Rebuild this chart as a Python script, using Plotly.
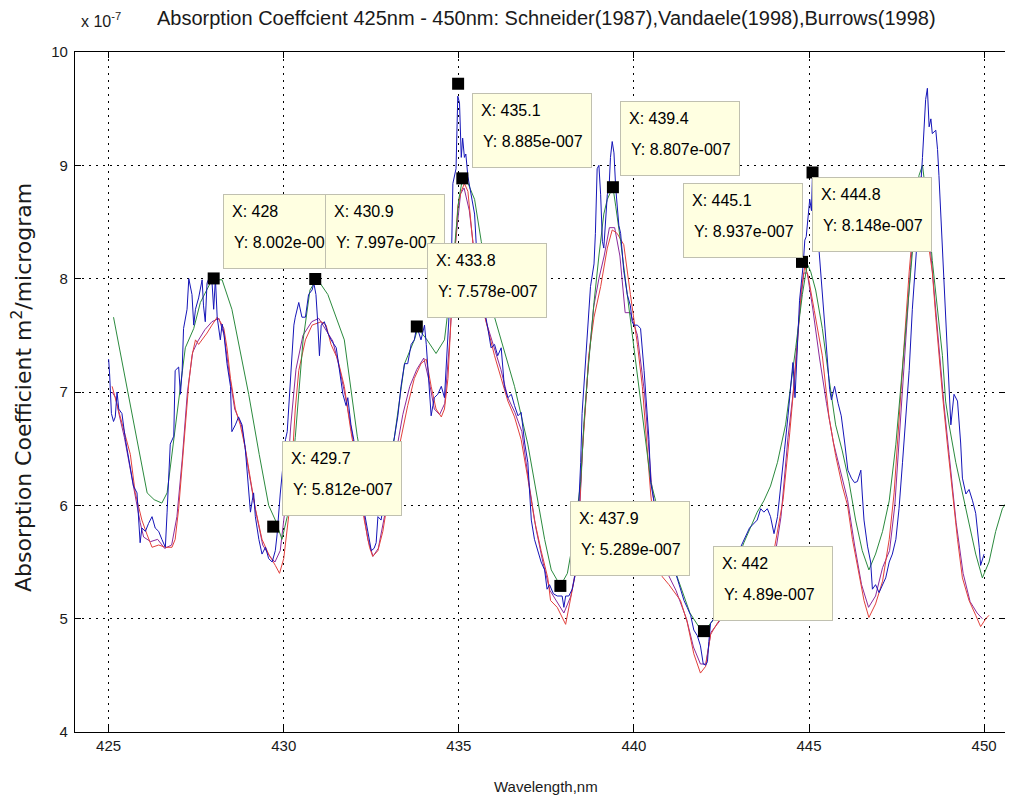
import plotly.graph_objects as go

# ---------------- data (absorption coefficient in units of 1e-7 m^2/microgram) -------------
blue_x = [425.0, 425.03, 425.08, 425.14, 425.19, 425.24, 425.29, 425.38, 425.48, 425.57, 425.71, 425.81,
          425.86, 425.9, 425.95, 426.05, 426.14, 426.24, 426.33, 426.43, 426.52, 426.62, 426.67, 426.76,
          426.86, 426.9, 427.0, 427.05, 427.1, 427.14, 427.24, 427.29, 427.38, 427.43, 427.48, 427.57,
          427.67, 427.71, 427.76, 427.81, 427.86, 427.95, 428.0, 428.05, 428.1, 428.19, 428.24, 428.29,
          428.38, 428.48, 428.52, 428.62, 428.71, 428.81, 428.9, 429.0, 429.05, 429.1, 429.14, 429.19,
          429.29, 429.38, 429.48, 429.57, 429.67, 429.76, 429.81, 429.9, 430.0, 430.05, 430.1, 430.2,
          430.29, 430.33, 430.43, 430.52, 430.62, 430.71, 430.81, 430.86, 430.92, 430.97, 431.02, 431.07,
          431.16, 431.26, 431.35, 431.5, 431.59, 431.69, 431.78, 431.83, 431.92, 432.0, 432.15, 432.35,
          432.5, 432.58, 432.64, 432.69, 432.78, 432.9, 433.05, 433.16, 433.26, 433.35, 433.45, 433.54,
          433.64, 433.73, 433.8, 433.92, 434.02, 434.07, 434.11, 434.16, 434.21, 434.26, 434.3, 434.4,
          434.5, 434.59, 434.69, 434.78, 434.83, 434.92, 434.97, 435.02, 435.07, 435.11, 435.16, 435.2,
          435.26, 435.35, 435.45, 435.54, 435.64, 435.73, 435.83, 435.92, 436.02, 436.11, 436.21, 436.3,
          436.4, 436.5, 436.59, 436.69, 436.78, 436.88, 436.97, 437.07, 437.16, 437.26, 437.35, 437.45,
          437.52, 437.59, 437.7, 437.81, 437.95, 438.0, 438.05, 438.14, 438.24, 438.33, 438.38, 438.43,
          438.48, 438.52, 438.57, 438.62, 438.67, 438.76, 438.86, 438.9, 438.95, 439.0, 439.05, 439.1,
          439.14, 439.19, 439.24, 439.29, 439.33, 439.38, 439.43, 439.48, 439.52, 439.57, 439.62, 439.71,
          439.81, 439.9, 439.95, 440.0, 440.1, 440.19, 440.29, 440.38, 440.43, 440.48, 440.57, 440.7,
          440.9, 441.1, 441.33, 441.43, 441.52, 441.62, 441.71, 441.81, 441.9, 441.98, 442.05, 442.1,
          442.14, 442.19, 442.4, 442.7, 443.0, 443.3, 443.52, 443.62, 443.71, 443.81, 443.9, 444.0,
          444.1, 444.21, 444.3, 444.4, 444.5, 444.54, 444.6, 444.64, 444.73, 444.83, 444.88, 444.92,
          444.97, 445.02, 445.07, 445.1, 445.15, 445.2, 445.3, 445.4, 445.5, 445.59, 445.64, 445.73,
          445.83, 445.92, 446.02, 446.11, 446.21, 446.3, 446.38, 446.48, 446.52, 446.57, 446.67, 446.76,
          446.81, 446.9, 447.0, 447.1, 447.19, 447.29, 447.38, 447.48, 447.57, 447.67, 447.76, 447.86,
          447.95, 448.05, 448.14, 448.24, 448.33, 448.38, 448.43, 448.48, 448.52, 448.62, 448.67, 448.71,
          448.81, 448.9, 449.0, 449.05, 449.14, 449.24, 449.33, 449.38, 449.48, 449.57, 449.67, 449.76,
          449.86, 449.9, 450.0]
blue_y = [7.29, 7.15, 6.81, 6.74, 6.78, 7.0, 6.85, 6.81, 6.58, 6.41, 6.17, 6.11,
          5.87, 5.67, 5.8, 5.77, 5.84, 5.9, 5.8, 5.77, 5.7, 5.63, 5.94, 6.54,
          6.61, 7.19, 7.22, 6.98, 7.19, 7.56, 7.73, 8.0, 7.86, 7.59, 7.73, 7.83,
          7.99, 7.76, 7.62, 7.96, 8.0, 7.98, 7.73, 8.0, 7.66, 7.46, 7.6, 7.52,
          7.25, 7.05, 6.65, 6.71, 6.78, 6.71, 6.51, 6.17, 5.94, 6.04, 6.11, 5.9,
          5.7, 5.57, 5.63, 5.53, 5.5, 5.6, 5.74, 6.1, 6.45, 6.58, 6.65, 7.1,
          7.59, 7.66, 7.79, 7.66, 7.66, 7.86, 7.9, 7.96, 7.86, 7.62, 7.32, 7.59,
          7.62, 7.52, 7.46, 7.39, 7.19, 6.98, 6.88, 6.95, 6.71, 6.58, 6.2, 5.87,
          5.6, 5.62, 5.67, 5.9, 5.87, 6.1, 6.4, 6.6, 6.79, 7.05, 7.25, 7.25,
          7.42, 7.46, 7.58, 7.46, 7.59, 7.42, 7.25, 7.02, 6.79, 6.88, 6.95, 6.98,
          7.05, 6.95, 7.52, 8.0, 8.84, 8.97, 9.61, 9.55, 9.07, 9.24, 9.07, 9.1,
          8.9, 8.74, 8.57, 8.06, 7.9, 7.73, 7.56, 7.39, 7.42, 7.32, 7.39, 7.05,
          6.95, 6.98, 6.88, 6.79, 6.82, 6.55, 6.38, 5.87, 5.7, 5.6, 5.5, 5.43,
          5.26, 5.3, 5.22, 5.2, 5.2, 5.1, 5.2, 5.2, 5.26, 5.4, 5.6, 6.04,
          6.38, 6.81, 7.05, 7.32, 7.59, 7.93, 8.13, 8.4, 8.97, 9.0, 8.74, 8.33,
          8.27, 8.53, 8.74, 8.8, 9.07, 9.21, 9.11, 8.8, 8.64, 8.47, 8.4, 8.07,
          7.86, 7.76, 7.62, 7.59, 7.59, 7.56, 7.19, 6.78, 6.58, 6.2, 6.04, 5.9,
          5.7, 5.5, 5.26, 5.16, 5.1, 5.03, 4.9, 4.85, 4.76, 4.6, 4.59, 4.62,
          4.8, 4.96, 5.05, 5.3, 5.6, 5.8, 5.87, 5.97, 5.94, 5.97, 5.9, 5.75,
          5.9, 6.2, 6.49, 6.79, 7.14, 7.26, 6.95, 7.2, 7.81, 8.11, 8.34, 8.37,
          8.55, 8.7, 8.6, 8.94, 8.8, 8.6, 8.26, 7.81, 7.43, 7.02, 6.93, 7.05,
          6.9, 6.79, 6.55, 6.31, 6.24, 6.2, 6.21, 6.31, 6.1, 5.87, 5.64, 5.5,
          5.26, 5.3, 5.23, 5.3, 5.36, 5.5, 5.57, 5.7, 5.97, 6.38, 6.78, 7.19,
          7.73, 8.13, 8.57, 9.07, 9.58, 9.68, 9.34, 9.41, 9.28, 9.31, 9.14, 8.91,
          8.23, 7.73, 7.05, 6.71, 6.98, 6.92, 6.55, 6.24, 6.1, 6.14, 6.04, 5.93,
          5.63, 5.47, 5.57]

red_x = [425.1, 425.19, 425.33, 425.48, 425.62, 425.76, 425.95, 426.1, 426.24, 426.43, 426.62, 426.81,
         426.9, 427.0, 427.1, 427.19, 427.29, 427.38, 427.48, 427.57, 427.67, 427.81, 427.95, 428.1,
         428.19, 428.29, 428.38, 428.48, 428.62, 428.76, 428.9, 429.05, 429.19, 429.38, 429.57, 429.76,
         429.88, 430.0, 430.14, 430.24, 430.33, 430.43, 430.62, 430.81, 431.07, 431.21, 431.35, 431.54,
         431.73, 431.92, 432.11, 432.3, 432.45, 432.54, 432.69, 432.83, 432.97, 433.16, 433.35, 433.54,
         433.73, 433.92, 434.07, 434.21, 434.35, 434.5, 434.59, 434.69, 434.78, 434.88, 434.97, 435.07,
         435.16, 435.26, 435.35, 435.45, 435.64, 435.83, 436.02, 436.21, 436.4, 436.59, 436.78, 436.97,
         437.16, 437.35, 437.54, 437.62, 437.81, 438.05, 438.19, 438.33, 438.43, 438.52, 438.62, 438.71,
         438.86, 439.05, 439.24, 439.38, 439.52, 439.71, 439.9, 440.1, 440.24, 440.38, 440.48, 440.65,
         440.81, 441.0, 441.33, 441.52, 441.71, 441.9, 442.05, 442.19, 442.38, 442.62, 443.0, 443.5,
         443.8, 444.0, 444.26, 444.45, 444.64, 444.78, 444.88, 444.97, 445.15, 445.38, 445.57, 445.76,
         445.95, 446.1, 446.24, 446.43, 446.57, 446.71, 446.9, 447.1, 447.29, 447.43, 447.57, 447.71,
         447.86, 447.95, 448.05, 448.2, 448.35, 448.43, 448.52, 448.62, 448.71, 448.81, 448.95, 449.1,
         449.24, 449.38, 449.57, 449.76, 449.9, 450.05, 450.14]
red_y = [7.05, 6.95, 6.78, 6.61, 6.45, 6.11, 5.87, 5.74, 5.63, 5.65, 5.63, 5.63,
         5.7, 5.97, 6.38, 6.71, 7.08, 7.32, 7.46, 7.42, 7.46, 7.52, 7.59, 7.66,
         7.62, 7.56, 7.39, 7.12, 6.85, 6.71, 6.51, 6.24, 5.97, 5.7, 5.57, 5.47,
         5.4, 5.53, 5.9, 6.38, 6.85, 7.19, 7.46, 7.59, 7.62, 7.59, 7.42, 7.29,
         7.05, 6.65, 6.31, 5.87, 5.63, 5.55, 5.6, 5.77, 6.04, 6.31, 6.61, 6.88,
         7.12, 7.25, 7.29, 7.05, 6.85, 6.78, 6.85, 7.12, 7.66, 8.23, 8.64, 8.77,
         8.84, 8.77, 8.47, 8.16, 7.79, 7.56, 7.32, 7.12, 6.92, 6.78, 6.58, 6.24,
         5.87, 5.6, 5.36, 5.16, 5.1, 4.95, 5.16, 5.4, 5.87, 6.44, 6.88, 7.32,
         7.66, 7.93, 8.27, 8.43, 8.4, 8.3, 7.86, 7.42, 7.05, 6.54, 6.1, 5.6,
         5.37, 5.3, 5.16, 4.97, 4.69, 4.52, 4.58, 4.86, 4.96, 5.06, 5.15, 5.35,
         5.5, 5.6, 6.05, 6.64, 7.31, 7.9, 8.11, 8.03, 7.72, 7.32, 6.78, 6.44,
         6.17, 6.0, 5.7, 5.4, 5.16, 5.01, 5.13, 5.33, 5.7, 6.11, 6.71, 7.39,
         8.06, 8.4, 8.74, 8.88, 8.6, 8.26, 8.06, 7.66, 7.32, 6.98, 6.54, 6.1,
         5.7, 5.36, 5.16, 5.03, 4.93, 5.0, 5.03]

green_x = [425.14, 425.62, 426.1, 426.3, 426.52, 426.67, 426.9, 427.19, 427.43, 427.62, 427.95, 428.24,
           428.52, 429.0, 429.3, 429.57, 429.76, 429.95, 430.1, 430.33, 430.55, 430.75, 430.95, 431.26,
           431.73, 432.1, 432.4, 432.65, 432.9, 433.16, 433.45, 433.73, 433.83, 434.07, 434.35, 434.59,
           434.8, 435.0, 435.11, 435.25, 435.45, 435.64, 436.02, 436.59, 436.97, 437.45, 437.64, 437.9,
           438.1, 438.3, 438.48, 438.57, 438.67, 438.76, 438.86, 439.0, 439.14, 439.24, 439.4, 439.48,
           439.62, 439.81, 440.0, 440.14, 440.29, 440.48, 440.62, 440.8, 441.2, 441.6, 441.85, 442.0,
           442.3, 442.7, 443.14, 443.33, 443.52, 443.71, 443.9, 444.1, 444.33, 444.62, 444.81, 444.95,
           445.05, 445.19, 445.38, 445.57, 445.76, 445.95, 446.14, 446.33, 446.52, 446.71, 446.9, 447.1,
           447.29, 447.48, 447.67, 447.86, 448.0, 448.14, 448.24, 448.4, 448.52, 448.62, 448.71, 448.81,
           448.9, 449.0, 449.19, 449.38, 449.57, 449.76, 449.95, 450.14, 450.33, 450.52, 450.71, 450.85]
green_y = [7.66, 6.89, 6.11, 6.05, 6.02, 6.11, 6.7, 7.39, 7.56, 7.79, 7.99, 7.99,
           7.73, 6.98, 6.45, 6.0, 5.87, 5.7, 5.9, 6.6, 7.45, 7.9, 8.0, 7.86,
           7.46, 6.61, 6.1, 5.95, 6.2, 6.6, 7.25, 7.46, 7.56, 7.47, 7.34, 7.46,
           8.0, 8.7, 8.89, 8.85, 8.7, 8.33, 7.66, 7.05, 6.54, 5.7, 5.43, 5.29,
           5.4, 5.75, 6.21, 6.71, 7.12, 7.46, 7.79, 8.2, 8.57, 8.7, 8.81, 8.64,
           8.33, 7.86, 7.39, 7.05, 6.71, 6.21, 6.04, 5.8, 5.4, 5.05, 4.93, 4.89,
           5.0, 5.3, 5.67, 5.8, 5.94, 6.04, 6.17, 6.38, 6.71, 7.39, 7.86, 8.13,
           8.06, 7.9, 7.56, 7.12, 6.71, 6.48, 6.21, 5.87, 5.6, 5.43, 5.57, 5.77,
           6.04, 6.54, 7.22, 7.93, 8.4, 8.91, 9.0, 8.6, 8.16, 7.86, 7.59, 7.32,
           6.92, 6.71, 6.38, 6.1, 5.83, 5.57, 5.36, 5.5, 5.77, 5.97, 6.06, 6.0]

purple_x = [425.1, 425.2, 425.3, 425.45, 425.6, 425.75, 425.9, 426.0, 426.2, 426.4, 426.6, 426.8,
            426.95, 427.1, 427.25, 427.4, 427.55, 427.75, 427.95, 428.15, 428.3, 428.45, 428.6, 428.8,
            429.0, 429.2, 429.4, 429.6, 429.75, 429.9, 430.05, 430.2, 430.35, 430.55, 430.8, 431.0,
            431.2, 431.4, 431.6, 431.8, 432.0, 432.2, 432.4, 432.55, 432.7, 432.85, 433.0, 433.2,
            433.4, 433.6, 433.8, 434.0, 434.15, 434.3, 434.45, 434.6, 434.75, 434.9, 435.05, 435.15,
            435.3, 435.45, 435.6, 435.8, 436.0, 436.2, 436.4, 436.6, 436.8, 437.0, 437.2, 437.4,
            437.6, 437.8, 438.0, 438.2, 438.35, 438.45, 438.55, 438.7, 438.85, 439.0, 439.15, 439.3,
            439.45, 439.6, 439.75, 439.9, 440.1, 440.3, 440.5, 440.8, 441.2, 441.5, 441.7, 441.9,
            442.05, 442.2, 442.5, 443.0, 443.4, 443.7, 444.0, 444.07, 444.2, 444.4, 444.55, 444.7,
            444.85, 444.95, 445.1, 445.3, 445.5, 445.7, 445.9, 446.1, 446.3, 446.5, 446.7, 446.9,
            447.1, 447.3, 447.45, 447.6, 447.75, 447.9, 448.05, 448.2, 448.4, 448.55, 448.7, 448.85,
            449.0, 449.2, 449.4, 449.6, 449.8, 449.95]
purple_y = [7.0, 6.95, 6.8, 6.6, 6.35, 6.1, 5.85, 5.72, 5.68, 5.7, 5.62, 5.65,
            5.9, 6.4, 7.0, 7.35, 7.45, 7.55, 7.62, 7.65, 7.5, 7.15, 6.85, 6.7,
            6.3, 5.95, 5.65, 5.55, 5.5, 5.6, 6.0, 6.7, 7.2, 7.5, 7.62, 7.65,
            7.55, 7.45, 7.2, 6.9, 6.55, 6.1, 5.7, 5.55, 5.62, 5.85, 6.1, 6.45,
            6.8, 7.05, 7.2, 7.3, 7.1, 6.85, 6.8, 6.9, 7.5, 8.3, 8.75, 8.8,
            8.6, 8.2, 7.85, 7.6, 7.4, 7.2, 6.95, 6.82, 6.65, 6.2, 5.8, 5.5,
            5.25, 5.15, 5.05, 5.2, 5.45, 5.95, 6.6, 7.25, 7.75, 8.0, 8.2, 8.45,
            8.45, 8.2, 7.7, 7.7, 7.5, 7.0, 6.2, 5.5, 5.25, 5.0, 4.75, 4.6,
            4.6, 4.88, 5.0, 5.3, 5.5, 5.6, 5.6, 5.64, 5.9, 6.6, 7.0, 7.6,
            8.05, 8.05, 7.75, 7.3, 6.9, 6.55, 6.3, 6.05, 5.65, 5.3, 5.1, 5.2,
            5.45, 5.6, 6.0, 6.7, 7.4, 8.1, 8.7, 8.9, 8.5, 7.95, 7.4, 6.9,
            6.45, 5.85, 5.4, 5.15, 5.05, 5.0]

# data tips (MATLAB data cursors)
tip_x = [428.0, 430.9, 429.7, 433.8, 435.1, 439.4, 437.9, 442.0, 445.1, 444.8]
tip_y = [8.002, 7.997, 5.812, 7.578, 8.885, 8.807, 5.289, 4.89, 8.937, 8.148]
extra_marker_x = [434.98]
extra_marker_y = [9.72]

x_ticks = [425, 430, 435, 440, 445, 450]
y_ticks = [4, 5, 6, 7, 8, 9, 10]

# --------------------------- layout constants ---------------------------
OFF = 8                      # default page margin of the HTML body
W, H = 1013 - 2 * OFF, 803 - 2 * OFF
ML, MR, MT, MB = 75 - OFF, 0, 52 - OFF, 63
PX_PER_NM = 35.02
X0 = 424.04
X_RANGE = [X0, X0 + (W - ML - MR) / PX_PER_NM]
Y_RANGE = [4, 10]
FONT = "Liberation Sans, Arial, sans-serif"

# box top-left corners for data tips (in data coordinates)
box_x = [428.27, 431.18, 429.95, 434.09, 435.38, 439.60, 438.17, 442.26, 441.40, 445.09]
box_y = [8.76, 8.76, 6.58, 8.32, 9.65, 9.58, 6.05, 5.65, 8.85, 8.91]


def matlab_fmt(v):
    s = f"{v:.4g}"
    if "e" in s:
        mant, exp = s.split("e")
        sign = exp[0]
        digits = exp[1:].lstrip("0")
        s = f"{mant}e{sign}{digits.zfill(3)}"
    return s


fig = go.Figure()
line_w = 1.0
fig.add_trace(go.Scatter(x=purple_x, y=purple_y, mode="lines",
                         line=dict(color="#8b2a9c", width=line_w), showlegend=False))
fig.add_trace(go.Scatter(x=red_x, y=red_y, mode="lines",
                         line=dict(color="#e2403c", width=line_w), showlegend=False))
fig.add_trace(go.Scatter(x=green_x, y=green_y, mode="lines",
                         line=dict(color="#2b8a3e", width=line_w), showlegend=False))
fig.add_trace(go.Scatter(x=blue_x, y=blue_y, mode="lines",
                         line=dict(color="#1515b8", width=line_w), showlegend=False))
fig.add_trace(go.Scatter(x=tip_x + extra_marker_x, y=tip_y + extra_marker_y, mode="markers",
                         marker=dict(symbol="square", size=12, color="black",
                                     line=dict(width=0)), showlegend=False))

annotations = []
for bx, by, tx, ty in zip(box_x, box_y, tip_x, tip_y):
    annotations.append(dict(
        x=bx, y=by, xref="x", yref="y", xanchor="left", yanchor="top",
        yshift=-1, text=f"X: {tx:g}", showarrow=False, align="left", valign="top",
        width=102, height=57, borderpad=8, borderwidth=1,
        bgcolor="#ffffe1", bordercolor="#c0c0b0",
        font=dict(family=FONT, size=16, color="black")))
    annotations.append(dict(
        x=bx, y=by, xref="x", yref="y", xanchor="left", yanchor="top",
        xshift=9, yshift=-39, text=f"Y: {matlab_fmt(ty * 1e-7)}", showarrow=False,
        align="left", font=dict(family=FONT, size=16, color="black")))

pw = W - ML - MR
ph = H - MT - MB


def px(xpix):
    return (xpix - OFF - ML) / pw


def py(ypix):
    return (H + OFF - MB - ypix) / ph


annotations += [
    dict(x=px(546), y=py(18), xref="paper", yref="paper", xanchor="center", yanchor="middle",
         text="Absorption Coeffcient 425nm - 450nm: Schneider(1987),Vandaele(1998),Burrows(1998)",
         showarrow=False, font=dict(family=FONT, size=20, color="#1a1a1a")),
    dict(x=px(79), y=py(20), xref="paper", yref="paper", xanchor="left", yanchor="middle",
         text="x 10<sup>-7</sup>", showarrow=False, font=dict(family=FONT, size=16, color="#1a1a1a")),
    dict(x=px(546), y=py(786), xref="paper", yref="paper", xanchor="center", yanchor="middle",
         text="Wavelength,nm", showarrow=False, font=dict(family=FONT, size=15, color="#1a1a1a")),
    dict(x=px(22), y=py(388), xref="paper", yref="paper", xanchor="center", yanchor="middle",
         text="Absorption Coefficient m<sup>2</sup>/microgram", textangle=-90,
         showarrow=False, font=dict(family="DejaVu Sans, sans-serif", size=22, color="#1a1a1a")),
]

axis_common = dict(showline=True, linecolor="black", linewidth=1.2, mirror="ticks",
                   ticks="inside", ticklen=6, tickcolor="black", tickwidth=1,
                   showgrid=True, gridcolor="black", gridwidth=1, griddash="2px,5px",
                   zeroline=False, tickfont=dict(family=FONT, size=15, color="#1a1a1a"))

fig.update_layout(
    width=W, height=H, margin=dict(l=ML, r=MR, t=MT, b=MB),
    paper_bgcolor="white", plot_bgcolor="white",
    xaxis=dict(range=X_RANGE, tickvals=x_ticks, ticktext=[str(v) for v in x_ticks], **axis_common),
    yaxis=dict(range=Y_RANGE, tickvals=y_ticks, ticktext=[str(v) for v in y_ticks],
               ticklabelstandoff=3, **axis_common),
    annotations=annotations,
    showlegend=False,
)

fig.write_html("out.html")
